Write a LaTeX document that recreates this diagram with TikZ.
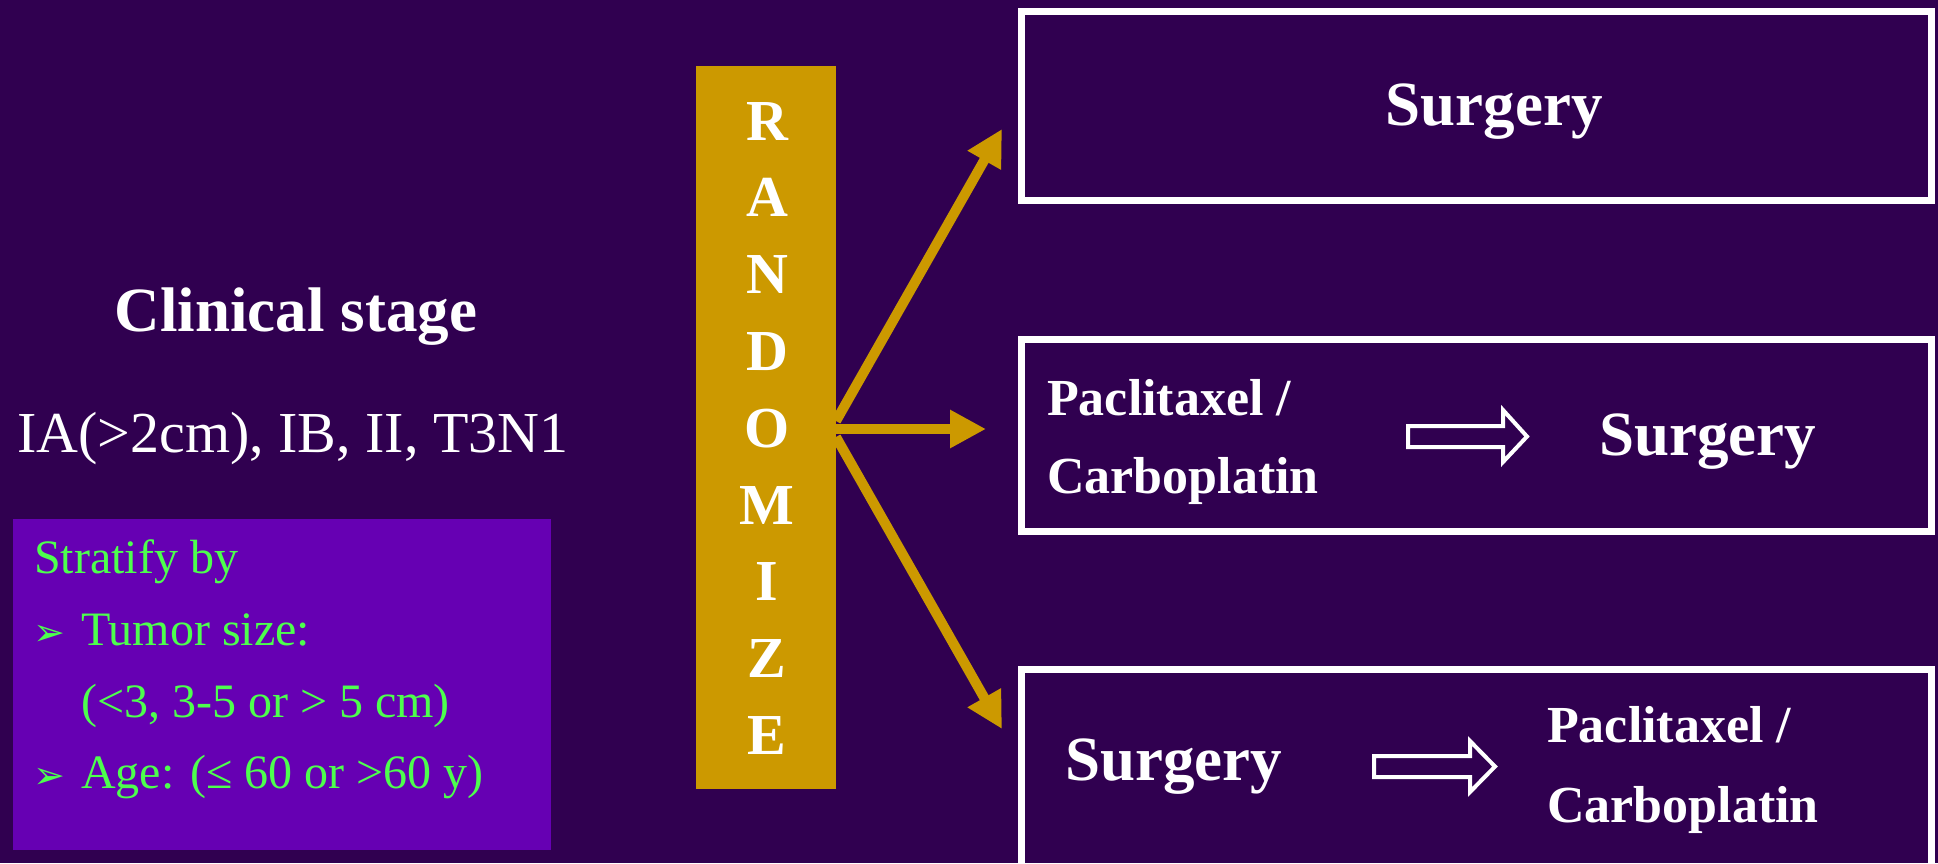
\documentclass[tikz,border=0pt]{standalone}
\usepackage{fontspec}
\setmainfont{Liberation Serif}
\newfontfamily\symfont{DejaVu Sans}
\usetikzlibrary{arrows.meta}
\definecolor{bgpurple}{RGB}{48,0,80}
\definecolor{gold}{RGB}{204,153,0}
\definecolor{stratfill}{RGB}{102,0,179}
\definecolor{ngreen}{RGB}{77,255,77}
\tikzset{
  armbox/.style={draw=white, line width=7pt, fill=none, inner sep=0pt},
  bigbold/.style={text=white, inner sep=0pt, font=\fontsize{63}{70}\selectfont\bfseries},
  medbold/.style={text=white, inner sep=0pt, anchor=base west, font=\fontsize{52}{60}\selectfont\bfseries},
  letter/.style={text=white, inner sep=0pt, anchor=base, font=\fontsize{58}{64}\selectfont\bfseries},
  strat/.style={text=ngreen, inner sep=0pt, anchor=base west, font=\fontsize{48}{56}\selectfont},
  bul/.style={text=ngreen, inner sep=0pt, anchor=base west, font=\symfont\fontsize{38}{42}\selectfont},
  goldarrow/.style={draw=gold, line width=10pt, -{Triangle[length=36pt,width=36pt]}},
  hollow/.style={draw=white, line width=4pt, line join=miter, fill=none}
}
\begin{document}
\begin{tikzpicture}[x=1pt,y=-1pt]
\clip (0,0) rectangle (1938,863);
\fill[bgpurple] (0,0) rectangle (1938,863);

% left texts
\node[text=white, inner sep=0pt, anchor=base, font=\fontsize{63}{70}\selectfont\bfseries] (stage) at (296,331) {Clinical stage};
\node[text=white, inner sep=0pt, anchor=base west, font=\fontsize{58}{64}\selectfont] (stages) at (17,452) {IA(>2cm), IB, II, T3N1};

% stratify box
\node[fill=stratfill, inner sep=0pt, minimum width=538pt, minimum height=331pt] (stratbox) at (282,684.5) {};
\node[strat] (s0) at (34,573) {Stratify by};
\node[bul] (b1) at (33,645) {➢};
\node[strat] (s1) at (81,645) {Tumor size:};
\node[strat] (s2) at (81,717) {(<3, 3-5 or > 5 cm)};
\node[bul] (b2) at (33,788) {➢};
\node[strat] (s3) at (81,788) {Age: (≤ 60 or >60 y)};

% randomize
\node[fill=gold, inner sep=0pt, minimum width=140pt, minimum height=723pt] (rand) at (766,427.5) {};
\foreach \L [count=\i from 0] in {R,A,N,D,O,M,I,Z,E} {
  \node[letter] (l\i) at (767,{140+76.8*\i}) {\L};
}

% arms boxes
\node[armbox, minimum width=910pt, minimum height=189pt] (arm1) at (1476,105.5) {};
\node[armbox, minimum width=910pt, minimum height=192pt] (arm2) at (1476,435) {};
\node[armbox, minimum width=910pt, minimum height=240pt] (arm3) at (1476,789) {};

% arm texts
\node[bigbold, anchor=base] (surg1) at (1494,125) {Surgery};
\node[medbold] (pac2) at (1047,415) {Paclitaxel /};
\node[medbold] (carb2) at (1047,493) {Carboplatin};
\node[bigbold, anchor=base west] (surg2) at (1599,455) {Surgery};
\node[bigbold, anchor=base west] (surg3) at (1065,780) {Surgery};
\node[medbold] (pac3) at (1547,742) {Paclitaxel /};
\node[medbold] (carb3) at (1547,822) {Carboplatin};

% hollow arrows
\draw[hollow] (1408,426) -- (1503,426) -- (1503,410) -- (1527,436.5) -- (1503,462) -- (1503,447) -- (1408,447) -- cycle;
\draw[hollow] (1374,756) -- (1470,756) -- (1470,741) -- (1495,766.5) -- (1470,792) -- (1470,777) -- (1374,777) -- cycle;

% gold arrows
\coordinate (o1) at (836,421);
\coordinate (o2) at (831,429);
\coordinate (o3) at (836,437);
\coordinate (t1) at (1002,129);
\coordinate (t2) at (986,429);
\coordinate (t3) at (1002,729);
\draw[goldarrow] (o1) -- (t1);
\draw[goldarrow] (o2) -- (t2);
\draw[goldarrow] (o3) -- (t3);
\end{tikzpicture}
\end{document}
